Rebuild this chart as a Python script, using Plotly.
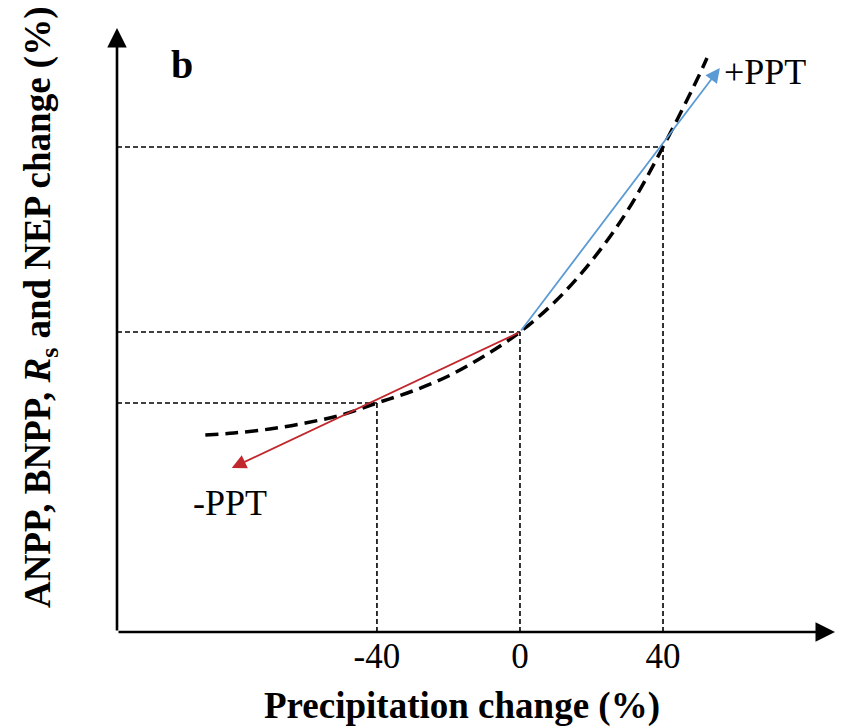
import plotly.graph_objects as go

# ---- data (y in arbitrary response units) ----
CURVE_X = [-88, -80, -70, -60, -50, -40, -30, -20, -10, 0, 10, 20, 30, 40, 50, 52.3]
CURVE_Y = [197, 199, 203, 209, 217, 229, 241, 256, 276, 300, 331, 371, 421, 485, 556, 574]
MARK_X = [-40, 0, 40]                 # precipitation changes with guide lines
TICK_TEXT = ["-40", "0", "40"]
ARROW_START = (0, 300)                # ambient precipitation point
PLUS_TIP = (55.9, 564)                # +PPT arrow tip
MINUS_TIP = (-80.6, 164)              # -PPT arrow tip

X_RANGE = [-112.7, 88.1]
Y_RANGE = [0, 604]

SERIF = "Liberation Serif, Times New Roman, serif"
RED = "#c0282d"
BLUE = "#5b9bd5"

fig = go.Figure()

# guide lines (dashed, thin)
for mx in MARK_X:
    my = CURVE_Y[CURVE_X.index(mx)]
    fig.add_trace(go.Scatter(x=[X_RANGE[0], mx], y=[my, my], mode="lines",
                             line=dict(color="black", width=1.6, dash="5px,3px"),
                             hoverinfo="skip", showlegend=False))
    fig.add_trace(go.Scatter(x=[mx, mx], y=[Y_RANGE[0], my], mode="lines",
                             line=dict(color="black", width=1.6, dash="5px,3px"),
                             hoverinfo="skip", showlegend=False))

# response curve
fig.add_trace(go.Scatter(x=CURVE_X, y=CURVE_Y, mode="lines",
                         line=dict(color="black", width=3.5, dash="13px,7px", shape="spline"),
                         hoverinfo="skip", showlegend=False))

anns = []
# +PPT and -PPT arrows
anns.append(dict(x=PLUS_TIP[0], y=PLUS_TIP[1], ax=ARROW_START[0], ay=ARROW_START[1],
                 xref="x", yref="y", axref="x", ayref="y", text="", showarrow=True,
                 arrowhead=2, arrowsize=1.6, arrowwidth=1.8, arrowcolor=BLUE, standoff=0))
anns.append(dict(x=MINUS_TIP[0], y=MINUS_TIP[1], ax=ARROW_START[0], ay=ARROW_START[1],
                 xref="x", yref="y", axref="x", ayref="y", text="", showarrow=True,
                 arrowhead=2, arrowsize=1.6, arrowwidth=1.8, arrowcolor=RED, standoff=0))
# axis arrows
anns.append(dict(x=1, y=0, xref="paper", yref="paper", ax=-718, ay=0, text="",
                 showarrow=True, arrowhead=2, arrowsize=1.5, arrowwidth=2.6,
                 arrowcolor="black", standoff=0))
anns.append(dict(x=0, y=1, xref="paper", yref="paper", ax=0, ay=604, text="",
                 showarrow=True, arrowhead=2, arrowsize=1.5, arrowwidth=2.6,
                 arrowcolor="black", standoff=0))
# labels
anns.append(dict(x=PLUS_TIP[0], y=PLUS_TIP[1], xref="x", yref="y", text="+PPT",
                 showarrow=False, xanchor="left", yanchor="middle", xshift=2, yshift=-4,
                 font=dict(family=SERIF, size=36, color="black")))
anns.append(dict(x=MINUS_TIP[0], y=MINUS_TIP[1], xref="x", yref="y", text="-PPT",
                 showarrow=False, xanchor="center", yanchor="middle", xshift=-2, yshift=-35,
                 font=dict(family=SERIF, size=36, color="black")))
anns.append(dict(x=0.09, y=0.94, xref="paper", yref="paper", text="<b>b</b>",
                 showarrow=False, xanchor="center", yanchor="middle",
                 font=dict(family=SERIF, size=40, color="black")))
# axis titles
anns.append(dict(x=(462 - 117) / 718, y=-(706 - 632) / 604, xref="paper", yref="paper",
                 text="<b>Precipitation change (%)</b>",
                 showarrow=False, xanchor="center", yanchor="middle",
                 font=dict(family=SERIF, size=37, color="black")))
anns.append(dict(x=-(117 - 40) / 718, y=(632 - 308) / 604, xref="paper", yref="paper",
                 text="<b>ANPP, BNPP, <i>R</i><sub>s</sub> and NEP change (%)</b>",
                 showarrow=False, textangle=-90, xanchor="center", yanchor="middle",
                 font=dict(family=SERIF, size=37, color="black")))

fig.update_layout(
    width=841, height=728,
    margin=dict(l=117, r=6, t=28, b=96),
    paper_bgcolor="white", plot_bgcolor="white",
    showlegend=False,
    annotations=anns,
    xaxis=dict(range=X_RANGE, showgrid=False, zeroline=False, showline=False,
               tickmode="array", tickvals=MARK_X, ticktext=TICK_TEXT, ticks="",
               tickfont=dict(family=SERIF, size=35, color="black"), fixedrange=True),
    yaxis=dict(range=Y_RANGE, showgrid=False, zeroline=False, showline=False,
               showticklabels=False, ticks="", fixedrange=True),
)

fig.write_html("out.html")
